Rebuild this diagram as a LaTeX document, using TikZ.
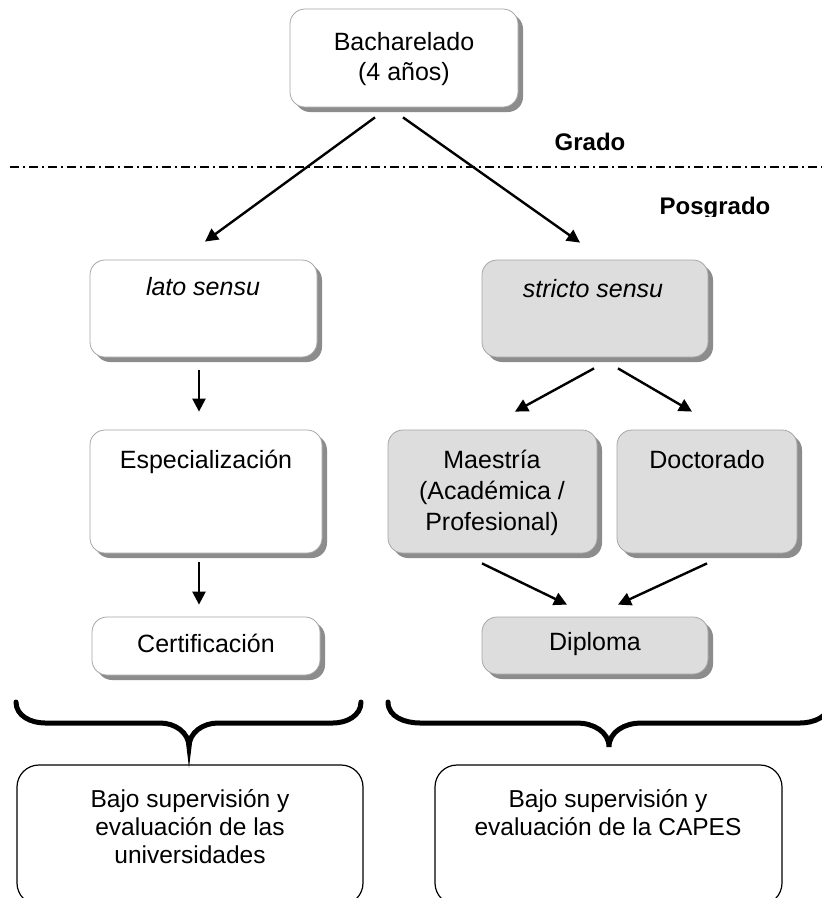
\documentclass[tikz,border=0pt]{standalone}
\usepackage{fontspec}
\setmainfont{Liberation Sans}
\usetikzlibrary{arrows.meta,calc,shadows}
\definecolor{boxgray}{HTML}{DDDDDD}
\definecolor{shadowgray}{HTML}{8C8C8C}
\definecolor{edgegray}{HTML}{A6A6A6}
\begin{document}
\begin{tikzpicture}[x=1pt,y=-1pt,
  box/.style={draw=edgegray,line width=0.8pt,rounded corners=15pt,fill=white,inner sep=0pt,
     drop shadow={shadow xshift=5pt,shadow yshift=-5pt,fill=shadowgray,opacity=1}},
  gbox/.style={box,fill=boxgray},
  sbox/.style={draw=black,line width=1.2pt,rounded corners=22pt,inner sep=0pt,fill=white},
  txt/.style={anchor=base,inner sep=0pt,font=\fontsize{25}{31}\selectfont},
  stxt/.style={anchor=base,inner sep=0pt,font=\fontsize{24.5}{28}\selectfont},
  btxt/.style={anchor=base,inner sep=0pt,font=\fontsize{24}{28}\selectfont\bfseries},
  arr/.style={line width=2.4pt,-{Triangle[length=13pt,width=13pt]}},
  brace/.style={line width=5pt,line cap=round},
]
\clip (0,0) rectangle (822,898);
\fill[white] (0,0) rectangle (822,898);

% boxes
\node[box,minimum width=228pt,minimum height=98pt] (bach) at (404,58) {};
\node[box,minimum width=227pt,minimum height=97pt] (lato) at (203.5,308.5) {};
\node[gbox,minimum width=226pt,minimum height=97pt] (stricto) at (595,308.5) {};
\node[box,minimum width=232pt,minimum height=123pt] (espec) at (206,491.5) {};
\node[gbox,minimum width=209pt,minimum height=123pt] (maest) at (492.5,491.5) {};
\node[gbox,minimum width=180pt,minimum height=123pt] (doct) at (707,491.5) {};
\node[box,minimum width=228pt,minimum height=58pt] (cert) at (206,646) {};
\node[gbox,minimum width=226pt,minimum height=57pt] (dipl) at (595,645.5) {};
\node[sbox,minimum width=346pt,minimum height=140pt] (sup1) at (190,835) {};
\node[sbox,minimum width=347pt,minimum height=140pt] (sup2) at (608.5,835) {};

% texts
\node[txt] (tbach) at (404,50) {\begin{tabular}[t]{@{}c@{}}Bacharelado\\[-1pt](4 años)\end{tabular}};
\node[txt] (tlato) at (203,295) {\itshape lato sensu};
\node[txt] (tstricto) at (593,297) {\itshape stricto sensu};
\node[txt] (tespec) at (206,468) {Especialización};
\node[txt] (tmaest) at (492,468) {\begin{tabular}[t]{@{}c@{}}Maestría\\(Académica /\\Profesional)\end{tabular}};
\node[txt] (tdoct) at (707,468) {Doctorado};
\node[txt] (tcert) at (206,652) {Certificación};
\node[txt] (tdipl) at (595,650) {Diploma};
\node[btxt] (tgrado) at (590,150) {Grado};
\begin{scope}
\clip (600,180) rectangle (822,216);
\node[btxt] (tposg) at (715,214) {Posgrado};
\end{scope}
\node[stxt] (tsup1) at (190,807) {\begin{tabular}[t]{@{}c@{}}Bajo supervisión y\\evaluación de las\\universidades\end{tabular}};
\node[stxt] (tsup2) at (608,807) {\begin{tabular}[t]{@{}c@{}}Bajo supervisión y\\evaluación de la CAPES\end{tabular}};

% dash-dot separator
\draw[line width=1.5pt,dash pattern=on 9pt off 4pt on 2pt off 4pt] (10,167) -- (822,167);

% arrows
\draw[arr] ($(bach.south)+(-29,10)$) -- ($(lato.north)+(1.5,-18)$);
\draw[arr] ($(bach.south)+(-1,10)$) -- ($(stricto.north)+(-15,-17)$);
\draw[arr] ($(lato.south)+(-4.5,13)$) -- ($(espec.north)+(-7,-18)$);
\draw[arr] ($(stricto.south)+(-1,11)$) -- ($(maest.north)+(22.5,-18)$);
\draw[arr] ($(stricto.south)+(23,11)$) -- ($(doct.north)+(-15,-18)$);
\draw[arr] ($(espec.south)+(-7,9)$) -- ($(cert.north)+(-7,-12)$);
\draw[arr] ($(maest.south)+(-10.5,10)$) -- ($(dipl.north)+(-28,-12)$);
\draw[arr] ($(doct.south)+(0,10)$) -- ($(dipl.north)+(23,-12)$);

% braces
\draw[brace] (16,702) to[out=-90,in=180] (45,723) -- (160,723) to[out=0,in=90] (189,747)
  to[out=90,in=180] (218,723) -- (333,723) to[out=0,in=-90] (361,702);
\draw[brace] (388,702) to[out=-90,in=180] (420,723) -- (577,723) to[out=0,in=90] (609,747)
  to[out=90,in=180] (641,723) -- (800,723) to[out=0,in=-90] (830,702);
\end{tikzpicture}
\end{document}
